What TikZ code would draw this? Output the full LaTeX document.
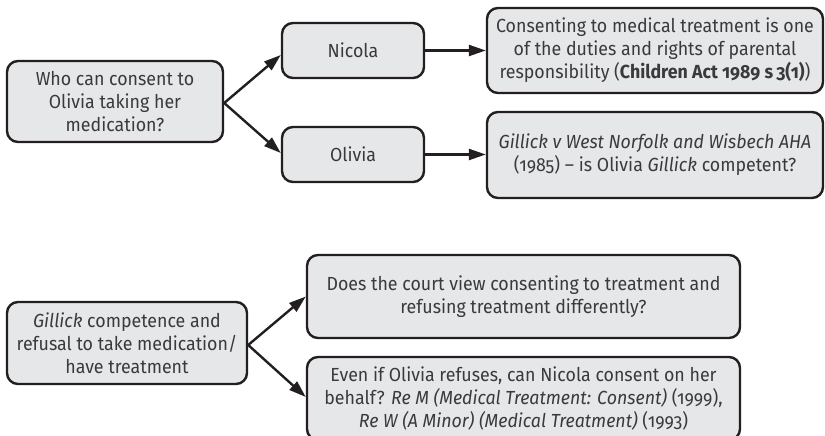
\documentclass[tikz,border=0pt]{standalone}
\usepackage{fontspec}
\setmainfont{Fira Sans}[Numbers=OldStyle, FakeStretch=0.94]
\usetikzlibrary{arrows.meta}
\definecolor{boxfill}{HTML}{E6E7E9}
\definecolor{boxline}{HTML}{231F20}
\definecolor{inkgrey}{HTML}{3A3A3A}
\begin{document}
\begin{tikzpicture}[x=1bp, y=-1bp,
  box/.style={draw=boxline, fill=boxfill, line width=2.4bp, rounded corners=11bp,
    align=center, text=inkgrey, inner sep=0pt,
    font=\fontsize{19}{23}\selectfont},
  link/.style={draw=boxline, line width=2.4bp,
    -{Triangle[length=17bp, width=11bp]}}]
\useasboundingbox (0,0) rectangle (825,436);
\clip (0,0) rectangle (825,436);

% upper tree: who may consent
\node[box, minimum width=216bp, minimum height=81bp] (who) at (115,101.5)
  {Who can consent to\\Olivia taking her\\medication?};
\node[box, minimum width=142bp, minimum height=55bp] (nicola) at (353,50.5) {Nicola};
\node[box, minimum width=142bp, minimum height=55bp] (olivia) at (353,154.5) {Olivia};
\node[box, minimum width=336bp, minimum height=85bp] (parental) at (655,50.5)
  {Consenting to medical treatment is one\\of the duties and rights of parental\\
   responsibility (\textbf{Children Act 1989 s\,3(1)})};
\node[box, minimum width=336bp, minimum height=86bp] (gillick) at (655,155)
  {\textit{Gillick v West Norfolk and Wisbech AHA}\\
   (1985) -- is Olivia \textit{Gillick} competent?};

\draw[link] ([yshift=-1.5bp]who.east) -- ([yshift=-4.5bp]nicola.west);
\draw[link] ([yshift=-1.5bp]who.east) -- ([yshift=1.5bp]olivia.west);
\draw[link] (nicola.east) -- (nicola.east -| parental.west);
\draw[link] (olivia.east) -- (olivia.east -| gillick.west);

% lower tree: refusal of treatment
\node[box, minimum width=240bp, minimum height=82bp] (refusal) at (127,343)
  {\textit{Gillick} competence and\\refusal to take medication/\\have treatment};
\node[box, minimum width=433bp, minimum height=83bp] (court) at (523.5,296.5)
  {Does the court view consenting to treatment and\\refusing treatment differently?};
\node[box, minimum width=433bp, minimum height=83bp] (override) at (523.5,398.5)
  {Even if Olivia refuses, can Nicola consent on her\\
   behalf? \textit{Re M (Medical Treatment: Consent)} (1999),\\
   \textit{Re W (A Minor) (Medical Treatment)} (1993)};

\draw[link] ([yshift=-2bp]refusal.east) -- (court.west);
\draw[link] ([yshift=-2bp]refusal.east) -- ([yshift=1.5bp]override.west);
\end{tikzpicture}
\end{document}
